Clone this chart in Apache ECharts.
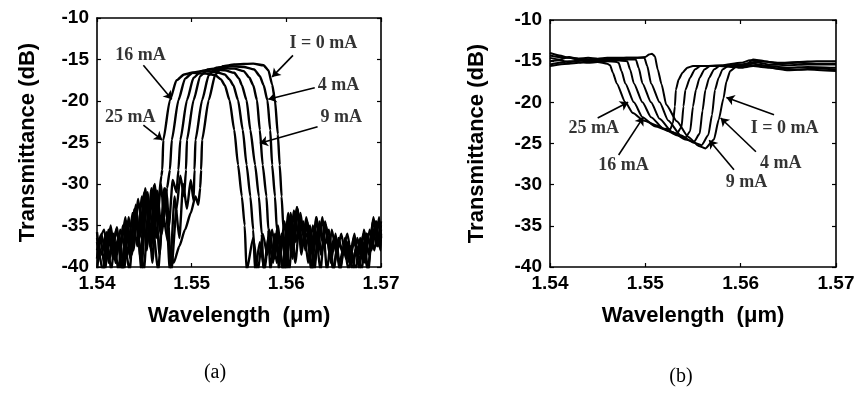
<!DOCTYPE html>
<html>
<head>
<meta charset="utf-8">
<script src="https://cdn.jsdelivr.net/npm/echarts@6/dist/echarts.min.js"></script>
<style>
  html, body { margin: 0; padding: 0; background: #fff; }
  #chart { width: 862px; height: 397px; }
</style>
</head>
<body>
<div id="chart"></div>
<script>
// tick labels
const wlTicks = [1.54, 1.55, 1.56, 1.57]
const dbTicks = [-40, -35, -30, -25, -20, -15, -10]

// heater currents, leftmost curve first
const currents = ['25 mA', '16 mA', '9 mA', '4 mA', '1 mA', '0 mA']

// (a) transmission spectra, [wavelength um, dB]
const a25 = [[1.5400,-36.5],[1.5405,-38.5],[1.5410,-35.8],[1.5415,-40.5],[1.5420,-35.5],[1.5425,-37.8],[1.5430,-34.0],[1.5435,-39.0],[1.5440,-33.0],[1.5445,-36.5],[1.5450,-31.0],[1.5455,-34.5],[1.5460,-30.2],[1.5465,-32.0],[1.5468,-29.0],[1.5469,-28.3],[1.5470,-24.7],[1.5477,-19.9],[1.5484,-17.5],[1.5492,-16.8],[1.5500,-16.6],[1.5515,-16.7],[1.5525,-16.9],[1.5531,-17.4],[1.5535,-18.1],[1.5540,-19.9],[1.5545,-23.5],[1.5549,-27.7],[1.5553,-31.5],[1.5556,-35.0],[1.5558,-40.5],[1.5565,-36.5],[1.5570,-40.5],[1.5575,-36.0],[1.5580,-38.5],[1.5585,-35.5],[1.5590,-39.5],[1.5595,-36.0],[1.5600,-40.5],[1.5605,-34.0],[1.5610,-37.0],[1.5615,-33.5],[1.5620,-38.0],[1.5625,-35.0],[1.5630,-39.5],[1.5635,-34.5],[1.5640,-37.5],[1.5645,-35.5],[1.5650,-40.5],[1.5655,-36.5],[1.5660,-38.5],[1.5665,-37.0],[1.5670,-40.5],[1.5675,-36.5],[1.5680,-39.0],[1.5685,-36.0],[1.5690,-38.0],[1.5695,-34.5],[1.5700,-36.0]]
const a16 = [[1.5400,-38.0],[1.54075,-35.5],[1.54125,-39.5],[1.54175,-36.0],[1.54225,-40.5],[1.54275,-35.0],[1.54325,-38.5],[1.54375,-33.5],[1.54425,-37.5],[1.54475,-31.5],[1.54525,-38.0],[1.54575,-30.5],[1.54625,-36.5],[1.54675,-30.0],[1.5471,-34.0],[1.5474,-30.5],[1.5477,-28.3],[1.5479,-24.7],[1.5486,-19.9],[1.5493,-17.3],[1.5501,-16.6],[1.5510,-16.4],[1.5525,-16.5],[1.5535,-16.8],[1.5540,-17.4],[1.5544,-18.1],[1.5549,-19.9],[1.5554,-23.5],[1.5558,-27.7],[1.5562,-31.5],[1.5565,-35.5],[1.5567,-40.5],[1.5572,-37.0],[1.5577,-40.5],[1.5582,-35.5],[1.5587,-39.0],[1.5592,-36.5],[1.5597,-40.5],[1.5602,-33.5],[1.5607,-38.0],[1.5612,-33.0],[1.5617,-37.5],[1.5622,-34.5],[1.5627,-40.5],[1.5632,-34.0],[1.5637,-38.5],[1.5642,-35.0],[1.5647,-39.5],[1.5652,-36.0],[1.5657,-40.5],[1.5662,-36.5],[1.5667,-39.0],[1.5672,-36.0],[1.5677,-40.5],[1.5682,-35.5],[1.5687,-38.5],[1.5692,-34.0],[1.5697,-37.5],[1.5700,-35.5]]
const a9 = [[1.5400,-35.8],[1.5406,-40.5],[1.5411,-36.5],[1.5416,-38.0],[1.5421,-35.2],[1.5426,-40.5],[1.5431,-34.5],[1.5436,-37.0],[1.5441,-32.5],[1.5446,-39.0],[1.5451,-30.5],[1.5456,-37.5],[1.5461,-30.0],[1.5466,-38.5],[1.5471,-30.5],[1.5476,-35.0],[1.5480,-29.5],[1.5484,-31.0],[1.5486,-28.3],[1.5488,-24.7],[1.5495,-19.9],[1.5502,-17.2],[1.5510,-16.4],[1.5520,-16.2],[1.5535,-16.3],[1.5545,-16.6],[1.5550,-17.3],[1.5553,-18.1],[1.5558,-19.9],[1.5562,-23.5],[1.5567,-27.7],[1.5571,-31.5],[1.5574,-36.0],[1.5576,-40.5],[1.5581,-36.5],[1.5586,-39.5],[1.5591,-35.0],[1.5596,-40.5],[1.5601,-34.5],[1.5606,-37.5],[1.5611,-32.8],[1.5616,-38.5],[1.5621,-34.0],[1.5626,-37.0],[1.5631,-35.5],[1.5636,-40.5],[1.5641,-34.5],[1.5646,-38.0],[1.5651,-36.5],[1.5656,-39.5],[1.5661,-37.5],[1.5666,-40.5],[1.5671,-36.5],[1.5676,-38.5],[1.5681,-37.0],[1.5686,-40.5],[1.5691,-35.5],[1.5696,-37.5],[1.5700,-34.5]]
const a4 = [[1.5400,-39.0],[1.54035,-36.2],[1.54085,-40.5],[1.54135,-35.5],[1.54185,-38.5],[1.54235,-36.0],[1.54285,-40.5],[1.54335,-34.0],[1.54385,-38.0],[1.54435,-31.8],[1.54485,-36.5],[1.54535,-31.0],[1.54585,-39.5],[1.54635,-30.8],[1.54685,-36.0],[1.54735,-31.0],[1.54785,-40.5],[1.5484,-33.0],[1.5488,-29.0],[1.5492,-31.5],[1.5494,-28.3],[1.5495,-24.7],[1.5502,-19.9],[1.5509,-17.0],[1.5517,-16.2],[1.5530,-16.0],[1.5545,-16.1],[1.5555,-16.4],[1.5561,-17.2],[1.5565,-18.1],[1.5569,-19.9],[1.5572,-23.5],[1.5575,-27.7],[1.5579,-31.5],[1.5581,-35.5],[1.5583,-40.5],[1.5588,-36.0],[1.5593,-39.0],[1.5598,-34.5],[1.5603,-40.5],[1.5608,-33.2],[1.5613,-36.5],[1.5618,-34.5],[1.5623,-39.5],[1.5628,-35.0],[1.5633,-38.0],[1.5638,-34.0],[1.5643,-40.5],[1.5648,-35.5],[1.5653,-38.5],[1.5658,-36.0],[1.5663,-39.0],[1.5668,-37.5],[1.5673,-40.5],[1.5678,-36.5],[1.5683,-39.5],[1.5688,-35.5],[1.5693,-38.0],[1.5698,-34.0],[1.5700,-36.5]]
const a1 = [[1.5400,-37.0],[1.5407,-40.5],[1.5412,-35.5],[1.5417,-39.0],[1.5422,-36.8],[1.5427,-40.5],[1.5432,-35.0],[1.5437,-38.5],[1.5442,-33.5],[1.5447,-40.5],[1.5452,-31.5],[1.5457,-38.0],[1.5462,-31.0],[1.5467,-36.0],[1.5472,-30.5],[1.5477,-40.5],[1.5482,-31.5],[1.5487,-36.5],[1.5491,-30.0],[1.5495,-33.0],[1.5499,-29.5],[1.5502,-32.0],[1.5503,-28.3],[1.5504,-24.7],[1.5511,-19.9],[1.5518,-16.9],[1.5526,-16.0],[1.5540,-15.8],[1.5555,-15.9],[1.5566,-16.2],[1.5572,-17.0],[1.5576,-18.1],[1.5580,-19.9],[1.5583,-23.5],[1.5585,-27.7],[1.5588,-31.5],[1.5590,-35.5],[1.5592,-40.5],[1.55945,-36.5],[1.55995,-38.5],[1.56045,-33.5],[1.56095,-39.5],[1.56145,-34.0],[1.56195,-36.5],[1.56245,-35.5],[1.56295,-40.5],[1.56345,-35.0],[1.56395,-37.5],[1.56445,-36.5],[1.56495,-40.5],[1.56545,-37.0],[1.56595,-38.0],[1.56645,-36.0],[1.56695,-39.5],[1.56745,-37.5],[1.56795,-40.5],[1.56845,-36.0],[1.56895,-37.5],[1.56945,-34.5],[1.56995,-38.0],[1.5700,-36.0]]
const a0 = [[1.5400,-40.5],[1.54045,-36.0],[1.54095,-38.5],[1.54145,-35.0],[1.54195,-39.5],[1.54245,-35.5],[1.54295,-37.5],[1.54345,-40.5],[1.54395,-33.0],[1.54445,-37.0],[1.54495,-40.5],[1.54545,-32.5],[1.54595,-35.5],[1.54645,-40.5],[1.54695,-33.5],[1.5475,-37.0],[1.5481,-39.5],[1.5487,-37.5],[1.5493,-35.5],[1.5499,-33.5],[1.5504,-31.5],[1.5507,-32.5],[1.5509,-30.5],[1.5510,-28.3],[1.5511,-24.7],[1.5518,-19.9],[1.5525,-16.8],[1.5533,-15.8],[1.5545,-15.6],[1.5565,-15.5],[1.5576,-15.7],[1.5581,-16.3],[1.5585,-18.0],[1.5588,-19.9],[1.5591,-24.0],[1.5593,-27.7],[1.5595,-31.5],[1.5597,-35.5],[1.5599,-40.5],[1.56015,-35.5],[1.56065,-39.0],[1.56115,-32.8],[1.56165,-37.5],[1.56215,-35.0],[1.56265,-40.5],[1.56315,-34.0],[1.56365,-38.5],[1.56415,-35.0],[1.56465,-39.0],[1.56515,-36.5],[1.56565,-40.5],[1.56615,-37.0],[1.56665,-39.5],[1.56715,-37.0],[1.56765,-38.5],[1.56815,-36.0],[1.56865,-40.5],[1.56915,-34.5],[1.56965,-36.5],[1.5700,-35.0]]

// (b) reflection dips, [wavelength um, dB]
const b25 = [[1.5400,-14.3],[1.5410,-14.5],[1.5420,-14.6],[1.5430,-14.8],[1.5440,-14.9],[1.5450,-15.1],[1.5460,-15.3],[1.5463,-15.5],[1.5466,-16.4],[1.5470,-17.7],[1.5479,-20.0],[1.5487,-21.3],[1.5498,-22.2],[1.5512,-22.8],[1.5520,-23.2],[1.5526,-23.3],[1.5529,-22.5],[1.5531,-20.5],[1.5532,-18.5],[1.5535,-17.2],[1.5539,-16.4],[1.5544,-15.8],[1.5550,-15.6],[1.5560,-15.6],[1.5580,-15.5],[1.5600,-15.2],[1.5610,-14.9],[1.5620,-15.0],[1.5640,-15.2],[1.5660,-15.1],[1.5680,-15.0],[1.5700,-15.0]]
const b16 = [[1.5400,-15.4],[1.5410,-15.2],[1.5420,-15.0],[1.5430,-15.1],[1.5440,-15.2],[1.5450,-15.1],[1.5460,-15.0],[1.5470,-15.1],[1.5472,-15.2],[1.5475,-16.2],[1.5479,-17.7],[1.5488,-20.0],[1.5497,-21.8],[1.5510,-22.9],[1.5525,-23.5],[1.5533,-23.8],[1.5538,-23.0],[1.5540,-20.5],[1.5542,-18.5],[1.5547,-17.0],[1.5552,-16.0],[1.5558,-15.6],[1.5580,-15.6],[1.5600,-15.4],[1.5615,-15.1],[1.5630,-15.4],[1.5650,-15.5],[1.5670,-15.4],[1.5700,-15.4]]
const b9 = [[1.5400,-14.0],[1.5410,-14.3],[1.5420,-14.6],[1.5430,-14.7],[1.5440,-14.8],[1.5450,-14.9],[1.5460,-14.9],[1.5470,-14.9],[1.5481,-15.0],[1.5484,-16.0],[1.5488,-17.7],[1.5497,-20.0],[1.5506,-21.8],[1.5519,-23.2],[1.5533,-24.0],[1.5542,-24.3],[1.5547,-23.5],[1.5550,-20.5],[1.5553,-18.5],[1.5557,-17.0],[1.5562,-16.0],[1.5568,-15.6],[1.5585,-15.6],[1.5600,-15.5],[1.5613,-15.3],[1.5630,-15.6],[1.5650,-15.8],[1.5670,-15.7],[1.5700,-15.8]]
const b4 = [[1.5400,-15.6],[1.5410,-15.4],[1.5420,-15.3],[1.5430,-15.2],[1.5440,-15.0],[1.5450,-14.9],[1.5460,-14.8],[1.5470,-14.8],[1.5480,-14.8],[1.5490,-14.8],[1.5493,-15.8],[1.5497,-17.7],[1.5506,-20.0],[1.5515,-22.0],[1.5528,-23.6],[1.5542,-24.5],[1.5551,-24.8],[1.5557,-23.8],[1.5560,-21.0],[1.5563,-18.5],[1.5567,-17.0],[1.5572,-16.0],[1.5578,-15.6],[1.5590,-15.7],[1.5605,-15.6],[1.5620,-15.5],[1.5640,-15.9],[1.5660,-16.0],[1.5680,-15.9],[1.5700,-16.0]]
const b1 = [[1.5400,-14.6],[1.5410,-14.8],[1.5420,-14.5],[1.5430,-14.7],[1.5440,-14.6],[1.5450,-14.7],[1.5460,-14.6],[1.5470,-14.6],[1.5480,-14.6],[1.5490,-14.6],[1.5499,-14.6],[1.5502,-15.6],[1.5506,-17.7],[1.5515,-20.0],[1.5524,-22.2],[1.5537,-24.0],[1.5551,-24.9],[1.5559,-25.2],[1.5566,-24.0],[1.5570,-21.5],[1.5573,-18.5],[1.5577,-17.0],[1.5581,-16.0],[1.5587,-15.6],[1.5600,-15.8],[1.5613,-15.6],[1.5630,-15.8],[1.5650,-16.1],[1.5670,-16.0],[1.5700,-16.2]]
const b0 = [[1.5400,-15.0],[1.5410,-14.9],[1.5420,-15.1],[1.5430,-14.9],[1.5440,-14.8],[1.5450,-14.8],[1.5460,-14.7],[1.5470,-14.7],[1.5480,-14.6],[1.5490,-14.6],[1.5500,-14.5],[1.5504,-14.2],[1.5507,-14.1],[1.5510,-14.4],[1.5513,-16.0],[1.5517,-17.8],[1.5522,-20.3],[1.5533,-22.3],[1.5545,-24.2],[1.5556,-25.3],[1.5563,-25.6],[1.5572,-24.5],[1.5577,-22.1],[1.5582,-19.5],[1.5585,-17.5],[1.5589,-16.2],[1.5595,-15.7],[1.5605,-15.5],[1.5613,-14.8],[1.5625,-15.0],[1.5640,-15.3],[1.5660,-15.2],[1.5680,-15.3],[1.5700,-15.3]]

const spectraA = [a25, a16, a9, a4, a1, a0]
const spectraB = [b25, b16, b9, b4, b1, b0]

// annotations: text, text position, arrow tail, arrow head (data coords)
const labelsA = ['I = 0 mA', '4 mA', '9 mA', '16 mA', '25 mA']
const labelAtA = [[1.5639, -13.0], [1.5655, -18.1], [1.5658, -22.0], [1.5446, -14.5], [1.5435, -22.0]]
const arrowFromA = [[1.5607, -14.5], [1.5630, -18.4], [1.5633, -23.1], [1.5449, -15.7], [1.5449, -22.9]]
const arrowToA = [[1.5585, -17.1], [1.5581, -19.8], [1.5572, -25.1], [1.5479, -19.8], [1.5469, -24.7]]

const labelsB = ['25 mA', '16 mA', '9 mA', '4 mA', 'I = 0 mA']
const labelAtB = [[1.5446, -23.1], [1.5477, -27.6], [1.5606, -29.7], [1.5642, -27.4], [1.5646, -23.1]]
const arrowFromB = [[1.5450, -21.9], [1.5472, -26.4], [1.5593, -28.2], [1.5616, -26.0], [1.5635, -21.5]]
const arrowToB = [[1.5482, -20.0], [1.5498, -21.8], [1.5567, -24.6], [1.5579, -21.9], [1.5585, -19.4]]

const SANS = '"Liberation Sans", Arial, sans-serif'
const SERIF = '"Liberation Serif", "Times New Roman", serif'

const chart = echarts.init(document.getElementById('chart'))

const axisBase = {
  type: 'value',
  splitLine: { show: false },
  axisLine: { show: true, onZero: false, lineStyle: { color: '#000', width: 1.6 } },
  axisTick: { show: true, inside: true, length: 4, lineStyle: { color: '#000', width: 1.2 } }
}

const xAxisFor = (gridIndex, nameGap) => [
  {
    ...axisBase, gridIndex, position: 'bottom',
    min: wlTicks[0], max: wlTicks[wlTicks.length - 1], interval: 0.01,
    name: 'Wavelength  (\u03bcm)', nameLocation: 'middle', nameGap,
    nameTextStyle: { fontFamily: SANS, fontSize: 22, fontWeight: 'bold', color: '#000' },
    axisLabel: { margin: 7, fontFamily: SANS, fontSize: 19, fontWeight: 'bold', color: '#000', formatter: v => v.toFixed(2) }
  },
  {
    ...axisBase, gridIndex, position: 'top',
    min: wlTicks[0], max: wlTicks[wlTicks.length - 1], interval: 0.01,
    axisLabel: { show: false }
  }
]

const yAxisFor = (gridIndex, nameGap) => [
  {
    ...axisBase, gridIndex, position: 'left',
    min: dbTicks[0], max: dbTicks[dbTicks.length - 1], interval: 5,
    name: 'Transmittance (dB)', nameLocation: 'middle', nameGap,
    nameTextStyle: { fontFamily: SANS, fontSize: 22, fontWeight: 'bold', color: '#000' },
    axisLabel: { margin: 8, fontFamily: SANS, fontSize: 19, fontWeight: 'bold', color: '#000' }
  },
  {
    ...axisBase, gridIndex, position: 'right',
    min: dbTicks[0], max: dbTicks[dbTicks.length - 1], interval: 5,
    axisLabel: { show: false }
  }
]

const curveSeries = (data, axisIndex, name, width) => ({
  type: 'line', name, data,
  xAxisIndex: axisIndex, yAxisIndex: axisIndex,
  showSymbol: false, smooth: 0.2, smoothMonotone: 'x', clip: true,
  lineStyle: { color: '#000', width },
  silent: true
})

const annotationSeries = (labels, at, from, to, axisIndex) => ({
  type: 'scatter',
  xAxisIndex: axisIndex, yAxisIndex: axisIndex,
  symbolSize: 0,
  data: labels.map((t, i) => ({ name: t, value: at[i] })),
  label: {
    show: true, position: 'inside', formatter: '{b}',
    fontFamily: SERIF, fontSize: 18, fontWeight: 'bold', color: '#000'
  },
  markLine: {
    silent: true, animation: false,
    symbol: ['none', 'arrow'], symbolSize: 8,
    label: { show: false },
    lineStyle: { color: '#000', width: 1.6, type: 'solid' },
    data: from.map((p, i) => [{ coord: p }, { coord: to[i] }])
  }
})

const option = {
  animation: false,
  backgroundColor: '#fff',
  grid: [
    { left: 97, top: 18, width: 284, height: 249 },
    { left: 550, top: 20, width: 286, height: 247 }
  ],
  xAxis: [...xAxisFor(0, 38), ...xAxisFor(1, 38)],
  yAxis: [...yAxisFor(0, 58), ...yAxisFor(1, 62)],
  series: [
    ...spectraA.map((d, i) => curveSeries(d, 0, currents[i], 2.4)),
    ...spectraB.map((d, i) => curveSeries(d, 2, currents[i], 2)),
    annotationSeries(labelsA, labelAtA, arrowFromA, arrowToA, 0),
    annotationSeries(labelsB, labelAtB, arrowFromB, arrowToB, 2)
  ],
  graphic: [
    { type: 'text', x: 215, y: 373, style: { text: '(a)', font: '20px ' + SERIF, fill: '#000', align: 'center', verticalAlign: 'middle' } },
    { type: 'text', x: 681, y: 377, style: { text: '(b)', font: '20px ' + SERIF, fill: '#000', align: 'center', verticalAlign: 'middle' } }
  ]
}

chart.setOption(option)
</script>
</body>
</html>
